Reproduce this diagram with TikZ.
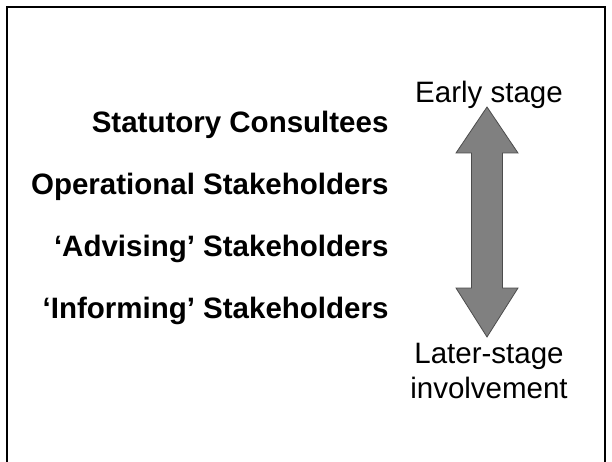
\documentclass[tikz,border=0pt]{standalone}
\usepackage{fontspec}
\setmainfont{Liberation Sans}
\begin{document}
\begin{tikzpicture}[
  x=1pt,y=-1pt,
  group/.style={anchor=base east,font=\fontsize{29.5}{35}\selectfont\bfseries},
  phase/.style={anchor=base,font=\fontsize{29.5}{35}\selectfont},
  bigarrow/.style={fill=black!50,draw=black!70,line width=0.8pt,line join=miter}
]
  \useasboundingbox (0,0) rectangle (612,462);
  \draw[line width=2pt] (7,462) -- (7,7) -- (605,7) -- (605,462);

  \node[group] (statutory)   at (392,133) {Statutory Consultees};
  \node[group] (operational) at (392,195) {Operational Stakeholders};
  \node[group] (advising)    at (392,256) {`Advising' Stakeholders};
  \node[group] (informing)   at (392,318) {`Informing' Stakeholders};

  \node[phase] (early) at (489,103) {Early stage};
  \node[phase] (later) at (489,363) {Later-stage};
  \node[phase] (invol) at (489,398) {involvement};

  % two-headed block arrow between the stages
  \draw[bigarrow] (487,107) -- (518,153) -- (502.5,153) -- (502.5,288)
    -- (518,288) -- (487,337) -- (456,288) -- (471.5,288) -- (471.5,153)
    -- (456,153) -- cycle;
\end{tikzpicture}
\end{document}
